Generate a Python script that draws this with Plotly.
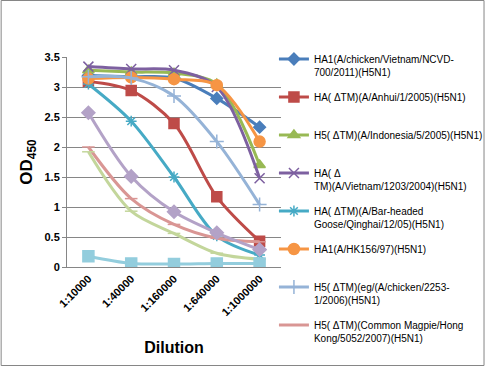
import plotly.graph_objects as go

categories = ["1:10000", "1:40000", "1:160000", "1:640000", "1:1000000"]

names = [
    "HA1(A/chicken/Vietnam/NCVD-<br>700/2011)(H5N1)",
    "HA( ΔTM)(A/Anhui/1/2005)(H5N1)<br> ",
    "H5( ΔTM)(A/Indonesia/5/2005)(H5N1)<br> ",
    "HA( Δ<br>TM)(A/Vietnam/1203/2004)(H5N1)",
    "HA( ΔTM)(A/Bar-headed<br>Goose/Qinghai/12/05)(H5N1)",
    "HA1(A/HK156/97)(H5N1)<br> ",
    "H5( ΔTM)(eg/(A/chicken/2253-<br>1/2006)(H5N1)",
    "H5( ΔTM)(Common Magpie/Hong<br>Kong/5052/2007)(H5N1)",
    "Series 9",
    "Series 10",
    "Series 11",
]

values = [
    [3.19, 3.17, 3.15, 2.81, 2.33],
    [3.09, 2.94, 2.39, 1.17, 0.43],
    [3.28, 3.25, 3.23, 3.05, 1.70],
    [3.34, 3.30, 3.28, 3.00, 1.48],
    [3.05, 2.43, 1.50, 0.52, 0.20],
    [3.14, 3.16, 3.13, 3.03, 2.09],
    [3.17, 3.15, 2.85, 2.09, 1.04],
    [2.00, 1.14, 0.71, 0.48, 0.42],
    [1.92, 0.93, 0.56, 0.23, 0.13],
    [2.57, 1.51, 0.92, 0.57, 0.29],
    [0.18, 0.06, 0.05, 0.06, 0.06],
]

colors = ["#4A7EBB", "#BE4B48", "#98B954", "#7D60A0", "#46AAC5", "#F69544",
          "#95B3D7", "#D99694", "#C3D69B", "#B3A2C7", "#93CDDD"]
symbols = ["diamond", "square", "triangle-up", "x-thin-open", "asterisk-open",
           "circle", "cross-thin-open", "line-ew-open", "line-ew-open",
           "diamond", "square"]
msizes = [9, 10, 10, 10, 9, 11, 10, 9, 9, 10, 11]
show = [True] * 8 + [False] * 3

fig = go.Figure()
for i in range(len(names)):
    fig.add_trace(go.Scatter(
        x=categories, y=values[i], name=names[i], mode="lines+markers",
        line=dict(color=colors[i], width=3, shape="spline", smoothing=0.9),
        marker=dict(symbol=symbols[i], size=msizes[i], color=colors[i],
                    line=dict(color=colors[i], width=1.5)),
        showlegend=show[i], legendgroup=f"g{i}",
    ))

W, H = 485, 366
L, R, T, B = 66.5, 204, 57, 99
pw, ph = W - L - R, H - T - B

fig.update_layout(
    width=W, height=H,
    margin=dict(l=L, r=R, t=T, b=B, autoexpand=False),
    paper_bgcolor="white", plot_bgcolor="white",
    font=dict(family="Liberation Sans, Arial, sans-serif", color="black"),
    legend=dict(x=0.967, y=1 - 46 / H, xanchor="left", yanchor="top",
                xref="paper", yref="container", maxheight=1,
                font=dict(size=10), valign="top", tracegroupgap=9,
                itemwidth=30, bgcolor="rgba(0,0,0,0)"),
    shapes=[dict(type="rect", xref="paper", yref="paper",
                 x0=-(L - 0.5) / pw, x1=(W - L - 0.5) / pw,
                 y0=-(B - 0.5) / ph, y1=(H - B - 0.5) / ph,
                 line=dict(color="#868686", width=1), fillcolor="rgba(0,0,0,0)")],
)
fig.update_xaxes(
    type="category", showgrid=False, showline=True, linecolor="#868686",
    tickangle=-45, tickfont=dict(size=11, weight="bold"),
    title=dict(text="Dilution", font=dict(size=16, weight="bold"), standoff=24),
    ticks="", range=[-0.5, 4.5],
)
fig.update_yaxes(
    range=[0, 3.5], dtick=0.5, showgrid=True, gridcolor="#868686", gridwidth=1,
    showline=True, linecolor="#868686", ticks="outside", tickcolor="#868686",
    ticklen=4, tickfont=dict(size=11, weight="bold"), zeroline=False,
    title=dict(text="OD<sub>450</sub>", font=dict(size=17, weight="bold"), standoff=7),
)

fig.write_html("out.html", config={"displayModeBar": False},
               post_script="document.body.style.margin='0';document.body.style.overflow='hidden';")
